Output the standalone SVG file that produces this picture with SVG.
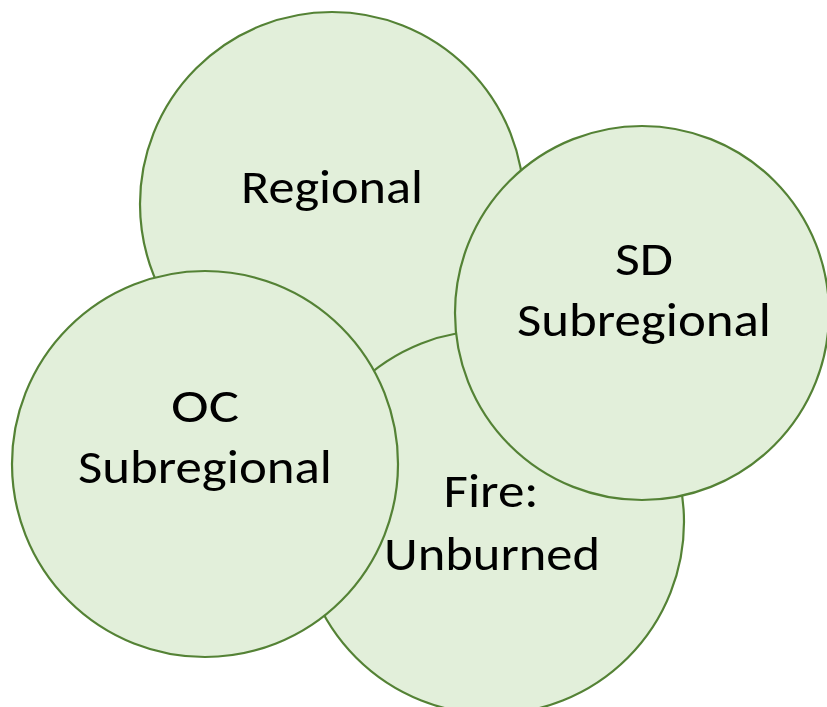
<svg xmlns="http://www.w3.org/2000/svg" width="827" height="707" viewBox="0 0 827 707">
<style>
.c{fill:#E2EFDA;stroke:#548235;stroke-width:2.2}
.t{font-family:Carlito,"Liberation Sans",Arial,sans-serif;font-size:47px;fill:#000;text-anchor:middle}
</style>
<rect width="827" height="707" fill="#fff"/>
<g id="regional"><circle class="c" cx="332" cy="204" r="192"/><text class="t" x="332" y="203" textLength="182" lengthAdjust="spacingAndGlyphs">Regional</text></g>
<g id="fire"><circle class="c" cx="492" cy="522" r="192"/><text class="t" x="491" y="507" textLength="95" lengthAdjust="spacingAndGlyphs">Fire:</text><text class="t" x="492" y="570" textLength="216" lengthAdjust="spacingAndGlyphs">Unburned</text></g>
<g id="sd"><circle class="c" cx="642" cy="313" r="187"/><text class="t" x="644" y="275" textLength="58" lengthAdjust="spacingAndGlyphs">SD</text><text class="t" x="644" y="336" textLength="254" lengthAdjust="spacingAndGlyphs">Subregional</text></g>
<g id="oc"><circle class="c" cx="205" cy="464" r="193"/><text class="t" x="205" y="422" textLength="68" lengthAdjust="spacingAndGlyphs">OC</text><text class="t" x="205" y="483" textLength="254" lengthAdjust="spacingAndGlyphs">Subregional</text></g>
<g id="connectors"/>
</svg>
